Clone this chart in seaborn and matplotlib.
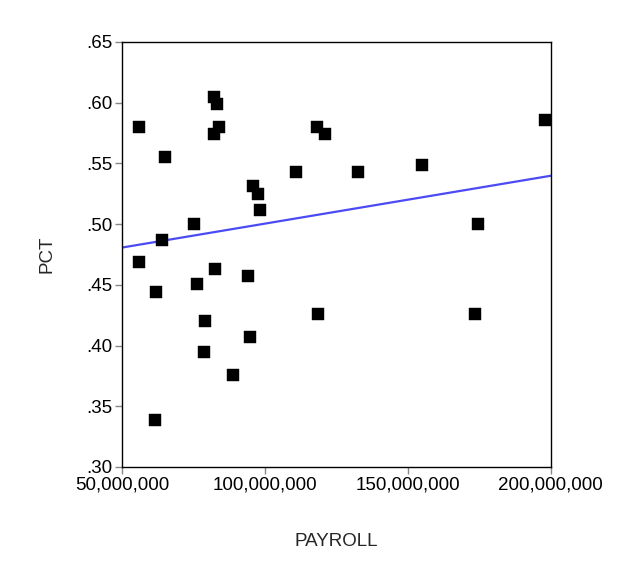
import numpy as np
import pandas as pd
import matplotlib
matplotlib.use('Agg')
import matplotlib.pyplot as plt
import matplotlib.ticker as mticker
import seaborn as sns

# payroll (millions of dollars) and winning percentage
payroll_m = [55.9, 65.0, 82.1, 83.2, 84.0, 82.1, 95.7, 97.4, 98.3, 110.7,
             75.1, 64.1, 56.1, 82.6, 76.1, 94.1, 61.8, 79.1, 94.8, 78.8,
             88.8, 61.5, 118.1, 121.0, 132.6, 154.8, 198.0, 174.7, 118.7, 173.4]
pct = [.580, .555, .605, .599, .580, .574, .531, .525, .512, .543,
       .500, .487, .469, .463, .451, .457, .444, .420, .407, .395,
       .376, .339, .580, .574, .543, .549, .586, .500, .426, .426]

x_ticks = [50e6, 100e6, 150e6, 200e6]
y_ticks = [.30, .35, .40, .45, .50, .55, .60, .65]

df = pd.DataFrame({'PAYROLL': np.array(payroll_m) * 1e6, 'PCT': pct})

sns.set_style('white')
plt.rcParams['font.family'] = ['Liberation Sans', 'DejaVu Sans']

fig = plt.figure(figsize=(6.39, 5.83), dpi=100)
ax = fig.add_axes([0.191, 0.199, 0.671, 0.729])
ax.set_xlim(50e6, 200e6)
ax.set_ylim(.30, .65)

sns.regplot(data=df, x='PAYROLL', y='PCT', ax=ax, scatter=False, ci=None,
            truncate=False, line_kws={'color': '#4b4bf5', 'lw': 1.6})
sns.scatterplot(data=df, x='PAYROLL', y='PCT', ax=ax, marker='s', s=70,
                color='black', edgecolor='black', linewidth=0.3, zorder=3)

ax.set_xticks(x_ticks)
ax.set_yticks(y_ticks)
ax.xaxis.set_major_formatter(mticker.FuncFormatter(lambda v, p: f"{int(round(v)):,}"))
ax.yaxis.set_major_formatter(mticker.FuncFormatter(lambda v, p: f"{v:.2f}".lstrip('0')))
ax.tick_params(axis='both', direction='out', length=5, width=1, color='#888888',
               labelsize=13.5, labelcolor='black', pad=2,
               bottom=True, left=True, top=False, right=False)
for s in ax.spines.values():
    s.set_color('black')
    s.set_linewidth(1)

ax.set_xlabel('PAYROLL', fontsize=13.5, labelpad=28)
ax.set_ylabel('PCT', fontsize=13.5, labelpad=22)

fig.savefig('out.png', dpi=100)
